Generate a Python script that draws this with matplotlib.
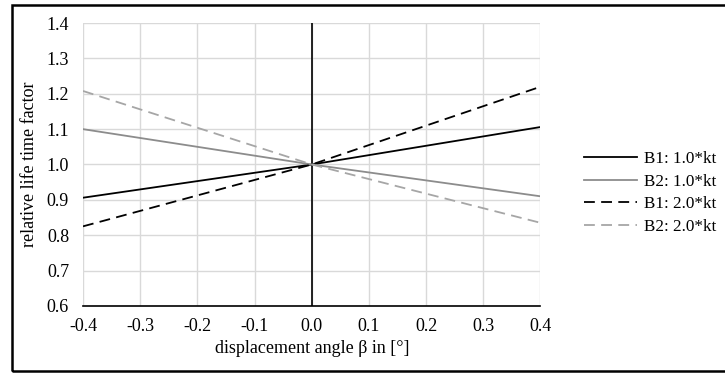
import matplotlib.pyplot as plt
from matplotlib.patches import Rectangle

plt.rcParams['font.family'] = ['Liberation Serif', 'DejaVu Serif']
plt.rcParams['font.size'] = 13

# data
beta = [-0.4, 0.0, 0.4]
b1_10 = [0.906, 1.0, 1.106]
b2_10 = [1.100, 1.0, 0.910]
b1_20 = [0.825, 1.0, 1.220]
b2_20 = [1.208, 1.0, 0.835]
labels = ['B1: 1.0*kt', 'B2: 1.0*kt', 'B1: 2.0*kt', 'B2: 2.0*kt']

fig = plt.figure(figsize=(7.25, 3.73), dpi=100)
ax = fig.add_axes([0.1145, 0.180, 0.631, 0.758])

ax.plot(beta, b1_10, color='black', lw=1.3, label=labels[0])
ax.plot(beta, b2_10, color='#8c8c8c', lw=1.3, label=labels[1])
ax.plot(beta, b1_20, color='black', lw=1.3, dashes=(6, 3.5), label=labels[2])
ax.plot(beta, b2_20, color='#a6a6a6', lw=1.3, dashes=(6, 3.5), label=labels[3])

ax.axvline(0, color='black', lw=1.2, zorder=1.5)

ax.set_xlim(-0.4, 0.4)
ax.set_ylim(0.6, 1.4)
ax.set_xticks([-0.4, -0.3, -0.2, -0.1, 0.0, 0.1, 0.2, 0.3, 0.4])
ax.set_yticks([0.6, 0.7, 0.8, 0.9, 1.0, 1.1, 1.2, 1.3, 1.4])
ax.xaxis.set_major_formatter(plt.FormatStrFormatter('%.1f'))
ax.yaxis.set_major_formatter(plt.FormatStrFormatter('%.1f'))
ax.grid(True, color='#d9d9d9', lw=1.0)
ax.set_axisbelow(True)
ax.tick_params(axis='x', length=0, pad=9)
ax.tick_params(axis='y', length=0, pad=10)
for s in ['top', 'right', 'left']:
    ax.spines[s].set_visible(False)
ax.spines['bottom'].set_color('black')
ax.spines['bottom'].set_linewidth(1.2)

ax.set_xlabel('displacement angle β in [°]', labelpad=3)
ax.set_ylabel('relative life time factor', labelpad=6)

ax.legend(loc='center left', bbox_to_anchor=(0.796, 0.482),
          bbox_transform=fig.transFigure, borderaxespad=0, frameon=False,
          fontsize=12.3, handlelength=3.1, handletextpad=0.4, labelspacing=0.38)

# outer chart frame; its right side lies past the image edge
fig.add_artist(Rectangle((0.016, 0.006), 1.0, 0.981, transform=fig.transFigure,
                         fill=False, edgecolor='black', lw=1.8))

fig.savefig('out.png', dpi=100)
